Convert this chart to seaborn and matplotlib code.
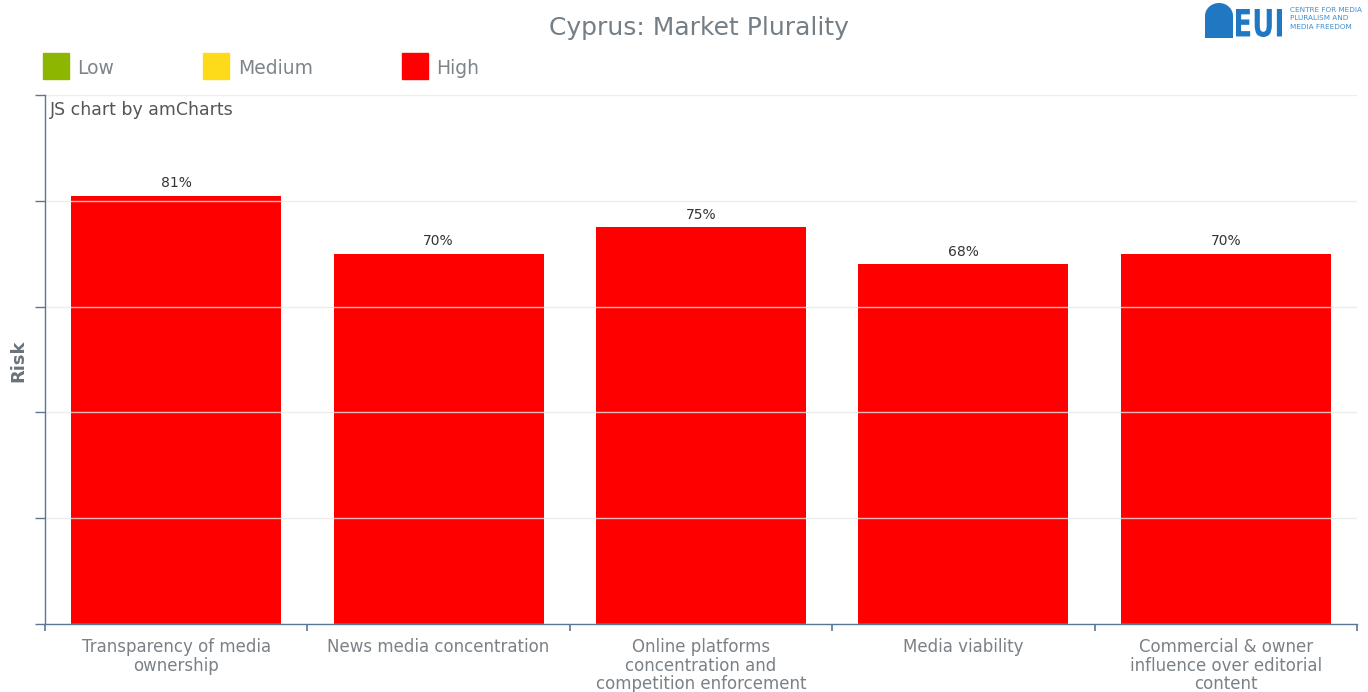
import numpy as np
import pandas as pd
import matplotlib
matplotlib.use("Agg")
import matplotlib.pyplot as plt
import seaborn as sns
from matplotlib.lines import Line2D
from matplotlib.patches import PathPatch
from matplotlib.path import Path
from matplotlib.textpath import TextPath
from matplotlib.font_manager import FontProperties
from matplotlib.transforms import Affine2D

# ---------------- data ----------------
categories = [
    "Transparency of media\nownership",
    "News media concentration",
    "Online platforms\nconcentration and\ncompetition enforcement",
    "Media viability",
    "Commercial & owner\ninfluence over editorial\ncontent",
]
values = [81, 70, 75, 68, 70]
legend_labels = ["Low", "Medium", "High"]
legend_colors = ["#8db600", "#fddb1a", "#ff0000"]
title = "Cyprus: Market Plurality"
y_label = "Risk"

# ---------------- style ----------------
sns.set_theme(style="white")
plt.rcParams["font.family"] = ["DejaVu Sans"]
AXIS_COLOR = "#5a7896"
TEXT_GREY = "#7a8187"
W, H = 1368, 692

fig = plt.figure(figsize=(W / 100, H / 100), dpi=100)
fig.patch.set_facecolor("white")
ax = fig.add_axes([45 / W, 68 / H, 1312 / W, 529 / H])

df = pd.DataFrame({"category": categories, "value": values})
sns.barplot(data=df, x="category", y="value", color="#ff0000", saturation=1,
            width=0.8, ax=ax, linewidth=0)

ax.bar_label(ax.containers[0], labels=[f"{v}%" for v in values], padding=4,
             fontsize=10, color="#333333")

ax.set_xlim(-0.5, len(categories) - 0.5)
ax.set_ylim(0, 100)
ax.set_yticks(np.arange(0, 101, 20))
ax.set_yticklabels([])
ax.set_xlabel("")
ax.set_ylabel("")

# grid above bars
ax.set_axisbelow(False)
ax.yaxis.grid(True, color="#e8e8e8", alpha=0.8, linewidth=1)
ax.xaxis.grid(False)

for s in ["top", "right"]:
    ax.spines[s].set_visible(False)
for s in ["left", "bottom"]:
    ax.spines[s].set_color(AXIS_COLOR)
    ax.spines[s].set_linewidth(1)
    ax.spines[s].set_zorder(5)

ax.tick_params(axis="y", which="major", length=7.2, width=1, color=AXIS_COLOR,
               direction="out", left=True)
ax.tick_params(axis="x", which="major", length=0, pad=10, labelsize=12,
               labelcolor=TEXT_GREY)
ax.set_xticks(np.arange(-0.5, len(categories), 1), minor=True)
ax.tick_params(axis="x", which="minor", length=5, width=1.2, color=AXIS_COLOR,
               direction="out", bottom=True)
for lbl in ax.get_xticklabels():
    lbl.set_linespacing(1.05)

# title, axis label, credit
fig.text(699 / W, 1 - 28 / H, title, ha="center", va="center", fontsize=18,
         color="#747e87")
fig.text(18 / W, 1 - 361 / H, y_label, rotation=90, ha="center", va="center",
         fontsize=13, fontweight="bold", color="#6a737b")
fig.text(50 / W, 1 - 110 / H, "JS chart by amCharts", ha="left", va="center",
         fontsize=12.5, color="#555555")

# legend
handles = [Line2D([], [], marker="s", linestyle="", markersize=19.4,
                  markerfacecolor=c, markeredgecolor=c) for c in legend_colors]
fig.legend(handles, legend_labels, loc="upper left",
           bbox_to_anchor=(42 / W, 1 - 57 / H), ncol=3, frameon=False,
           fontsize=13.5, labelcolor="#7d848a", handlelength=1.44,
           handleheight=1.44, handletextpad=0.42, columnspacing=4.75,
           borderpad=0, borderaxespad=0)

# logo (drawn in pixel coordinates)
lax = fig.add_axes([1195 / W, 1 - 42 / H, 173 / W, 42 / H])
lax.set_xlim(1195, 1368)
lax.set_ylim(42, 0)
lax.axis("off")
blue = "#1f78c1"
t = np.linspace(np.pi, 0, 40)
ox = 1219 + 14 * np.cos(t); oy = 16 - 13 * np.sin(t)
ix = 1219 + 6.5 * np.cos(t); iy = 20 - 6 * np.sin(t)
outer = [(1205, 38)] + list(zip(ox, oy)) + [(1233, 38), (1205, 38)]
inner = [(1212.5, 38)] + list(zip(ix, iy)) + [(1225.5, 38), (1212.5, 38)]
verts = outer + inner
codes = ([Path.MOVETO] + [Path.LINETO] * (len(outer) - 2) + [Path.CLOSEPOLY] +
         [Path.MOVETO] + [Path.LINETO] * (len(inner) - 2) + [Path.CLOSEPOLY])
lax.add_patch(PathPatch(Path(verts, codes), facecolor=blue, edgecolor="none"))
lax.plot([1217.5, 1220.5], [17, 17], linestyle="", marker="s", markersize=1.3,
         color=blue)
tp = TextPath((0, 0), "EUI", size=1, prop=FontProperties(family="DejaVu Sans", weight="bold"))
bb = tp.get_extents()
sx = (1282 - 1236) / bb.width
sy = (37 - 9) / bb.height
tr = Affine2D().translate(-bb.x0, -bb.y0).scale(sx, -sy).translate(1236, 37)
lax.add_patch(PathPatch(tr.transform_path(tp), facecolor=blue, edgecolor="none"))
for i, line in enumerate(["CENTRE FOR MEDIA", "PLURALISM AND", "MEDIA FREEDOM"]):
    lax.text(1290, 10 + i * 8.5, line, fontsize=5.2, color="#3d8fd0",
             ha="left", va="center", clip_on=False)

fig.savefig("out.png", dpi=100)
